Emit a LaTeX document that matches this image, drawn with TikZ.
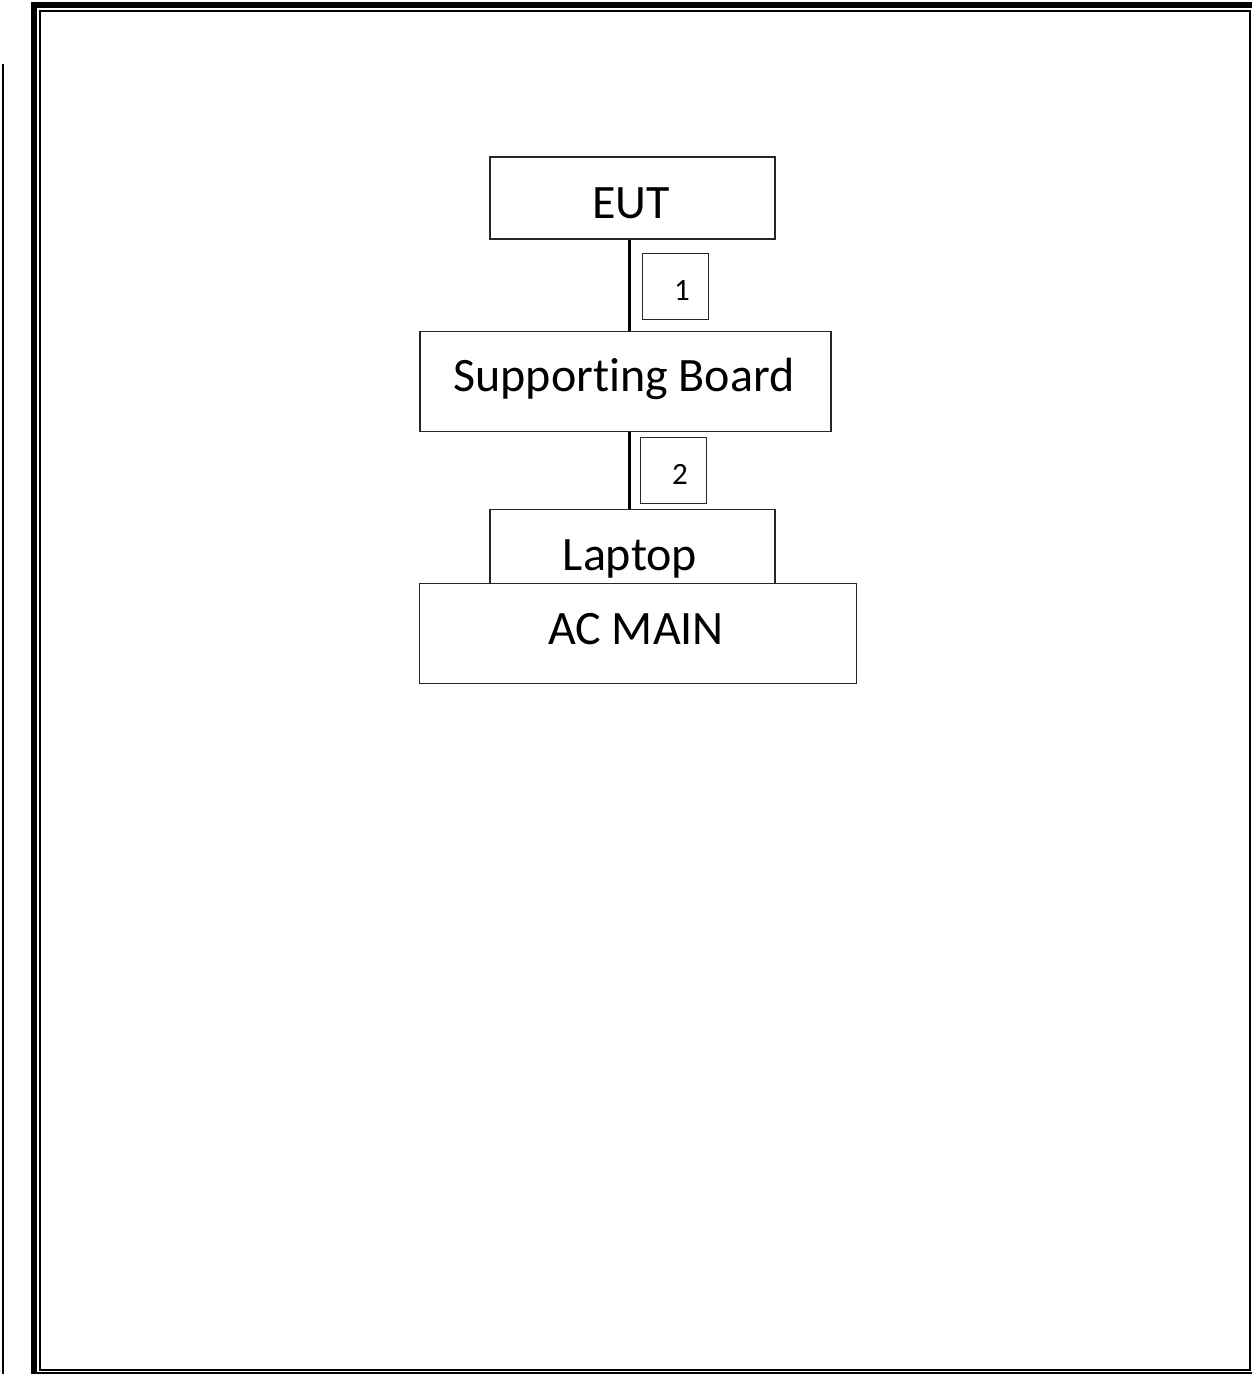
\documentclass[tikz,border=0pt]{standalone}
\usepackage{fontspec}
\setmainfont{Carlito}[Ligatures=NoCommon]
\begin{document}
\begin{tikzpicture}[x=1pt,y=-1pt,
  box/.style={draw=black!85, line width=1.6pt, inner sep=0pt, fill=none},
  tag/.style={draw=black!85, line width=1.5pt, inner sep=0pt},
  conn/.style={line width=3.2pt, black},
  big/.style={inner sep=0pt, anchor=base, font=\fontsize{48}{57}\selectfont},
  small/.style={inner sep=0pt, anchor=base, font=\fontsize{31}{37}\selectfont}]
\useasboundingbox (0,0) rectangle (1252,1374);
\fill[white] (0,0) rectangle (1252,1374);
% page border
\fill[black] (2,64) rectangle (4,1374);
\fill[black] (31,2) rectangle (37,1374);
\fill[black] (31,2) rectangle (1252,8);
\fill[black] (36,1372) rectangle (1252,1374);
\draw[line width=2pt] (40,11) rectangle (1250,1370);
% boxes
\node[box, minimum width=285pt, minimum height=82pt] (eut) at (632.5,198) {};
\node[box, minimum width=411pt, minimum height=100pt] (sb) at (625.5,381.5) {};
\node[box, minimum width=285pt, minimum height=74pt] (lap) at (632.5,546.5) {};
\node[box, minimum width=437pt, minimum height=100pt] (ac) at (638,633.5) {};
\node[tag, minimum width=66pt, minimum height=66pt] (t1) at (675.5,286.5) {};
\node[tag, minimum width=66pt, minimum height=66pt] (t2) at (673.5,470.5) {};
% texts
\node[big] (teut) at (631,218) {EUT};
\node[big] (tsb) at (624,391) {Supporting Board};
\node[big] (tlap) at (630,570) {Laptop};
\node[big] (tac) at (636,644) {AC MAIN};
\node[small] (t1txt) at (682,300) {1};
\node[small] (t2txt) at (680,484) {2};
% connectors
\draw[conn] ([xshift=-3.2pt]eut.south) -- ([xshift=-3.2pt]eut.south |- sb.north);
\draw[conn] ([xshift=-3.2pt]eut.south |- sb.south) -- ([xshift=-3.2pt]eut.south |- lap.north);
\end{tikzpicture}
\end{document}
